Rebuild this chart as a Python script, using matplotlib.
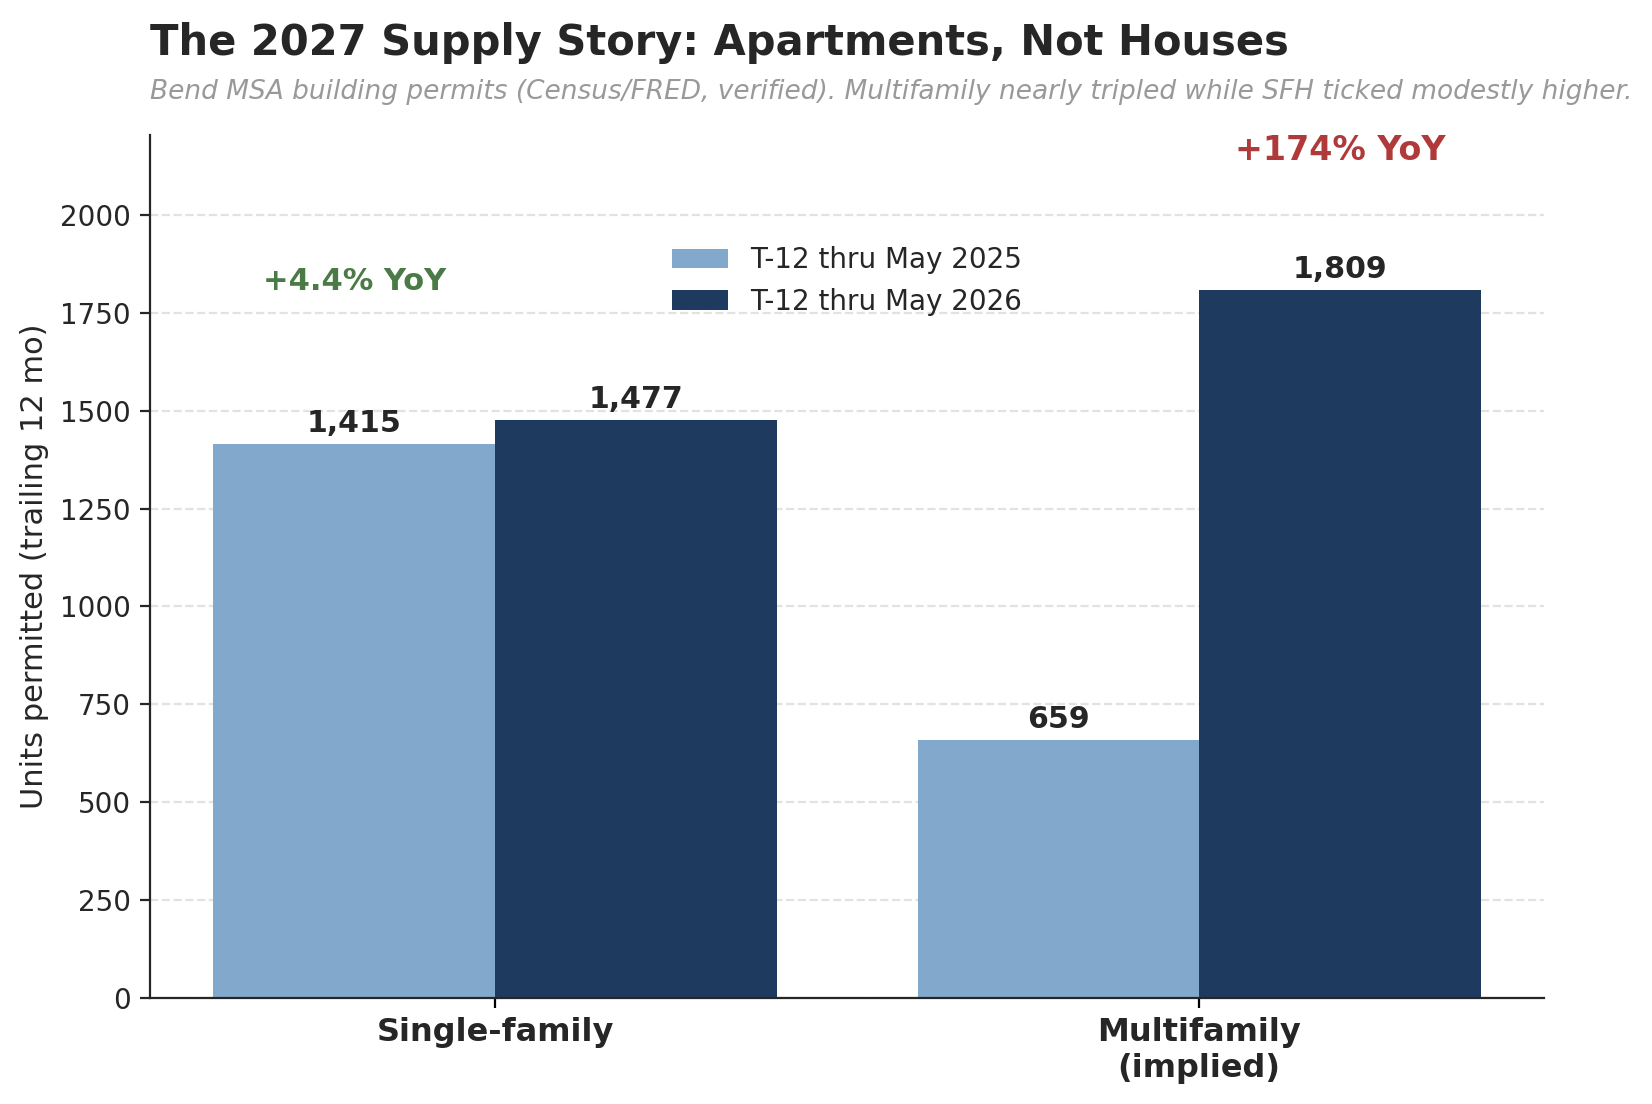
import matplotlib
matplotlib.use("Agg")
import matplotlib.pyplot as plt
import numpy as np

categories = ["Single-family", "Multifamily\n(implied)"]
series_names = ["T-12 thru May 2025", "T-12 thru May 2026"]
permits_2025 = [1415, 659]
permits_2026 = [1477, 1809]
yoy_labels = ["+4.4% YoY", "+174% YoY"]

light = "#82a9cb"
dark = "#1f3a5f"
txt = "#262626"

plt.rcParams['font.family'] = ['DejaVu Sans']

fig = plt.figure(figsize=(8.26, 5.52), dpi=200)
ax = fig.add_axes([0.0908, 0.096, 0.844, 0.782])

x = np.arange(len(categories))
w = 0.4
b1 = ax.bar(x - w / 2, permits_2025, w, color=light, label=series_names[0], zorder=2)
b2 = ax.bar(x + w / 2, permits_2026, w, color=dark, label=series_names[1], zorder=2)

for bars in (b1, b2):
    for r in bars:
        h = r.get_height()
        ax.text(r.get_x() + r.get_width() / 2, h + 15, f"{h:,.0f}",
                ha="center", va="bottom", fontsize=10.8, fontweight="bold", color=txt)

# yoy callouts
ax.text(x[0] - w / 2, 1830, yoy_labels[0], ha="center", va="center",
        fontsize=11, fontweight="bold", color="#4a7a45")
ax.text(x[1] + w / 2, 2165, yoy_labels[1], ha="center", va="center",
        fontsize=12, fontweight="bold", color="#b03a3a")

ax.set_ylim(0, 2205)
ax.set_yticks(np.arange(0, 2001, 250))
ax.set_xticks(x)
ax.set_xticklabels(categories, fontsize=11.5, fontweight="bold", color=txt)
ax.tick_params(axis="y", labelsize=10, colors=txt)
ax.set_ylabel("Units permitted (trailing 12 mo)", fontsize=11, color=txt)
ax.grid(axis="y", linestyle="--", color="#e2e2e2", linewidth=0.8, zorder=0)
ax.set_axisbelow(True)
for s in ("top", "right"):
    ax.spines[s].set_visible(False)
for s in ("left", "bottom"):
    ax.spines[s].set_color(txt)

ax.legend(loc="upper center", bbox_to_anchor=(0.5, 0.9), frameon=False, fontsize=10,
          labelcolor=txt)

fig.text(0.0908, 0.961, "The 2027 Supply Story: Apartments, Not Houses",
         fontsize=15, fontweight="bold", color=txt, va="center", ha="left")
fig.text(0.0908, 0.917, "Bend MSA building permits (Census/FRED, verified). Multifamily nearly tripled while SFH ticked modestly higher.",
         fontsize=9.5, style="italic", color="#999999", va="center", ha="left")

fig.savefig("out.png", dpi=200)
